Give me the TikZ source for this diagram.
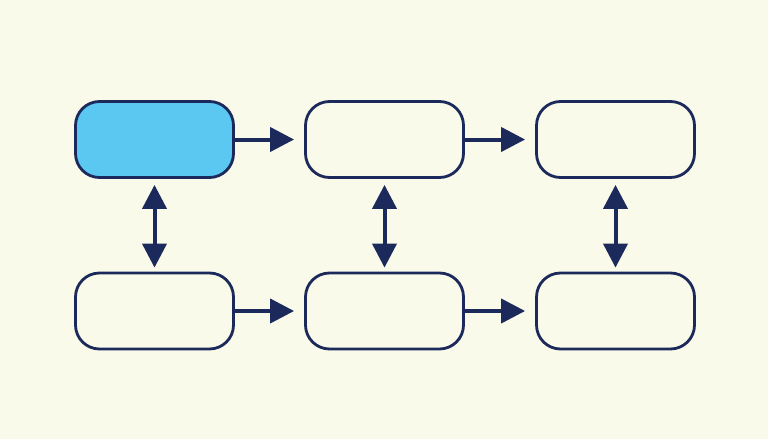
\documentclass[tikz,border=0pt]{standalone}
\usetikzlibrary{arrows.meta}
\definecolor{bg}{HTML}{FAFAEB}
\definecolor{ink}{HTML}{1B2A5A}
\definecolor{hl}{HTML}{5BC8F2}
\begin{document}
\begin{tikzpicture}[x=1pt,y=-1pt,
  box/.style={draw=ink,line width=2.8pt,rounded corners=24pt,minimum width=158pt,minimum height=76pt,inner sep=0pt,fill=bg},
  flow/.style={draw=ink,line width=4pt,-{Triangle[length=24pt,width=24pt]}},
  both/.style={draw=ink,line width=4pt,{Triangle[length=24pt,width=24pt]}-{Triangle[length=24pt,width=24pt]}}]
\fill[bg] (0,0) rectangle (768,439);
\useasboundingbox (0,0) rectangle (768,439);
\node[box,fill=hl] (a1) at (154.5,139.5) {};
\node[box] (a2) at (384.5,139.5) {};
\node[box] (a3) at (615.5,139.5) {};
\node[box] (b1) at (154.5,311) {};
\node[box] (b2) at (384.5,311) {};
\node[box] (b3) at (615.5,311) {};
\draw[flow] (a1.east) -- ([xshift=-10pt]a2.west);
\draw[flow] (a2.east) -- ([xshift=-10pt]a3.west);
\draw[flow] (b1.east) -- ([xshift=-10pt]b2.west);
\draw[flow] (b2.east) -- ([xshift=-10pt]b3.west);
\draw[both] ([yshift=-6pt]a1.south) -- ([yshift=4pt]b1.north);
\draw[both] ([yshift=-6pt]a2.south) -- ([yshift=4pt]b2.north);
\draw[both] ([yshift=-6pt]a3.south) -- ([yshift=4pt]b3.north);
\end{tikzpicture}
\end{document}
